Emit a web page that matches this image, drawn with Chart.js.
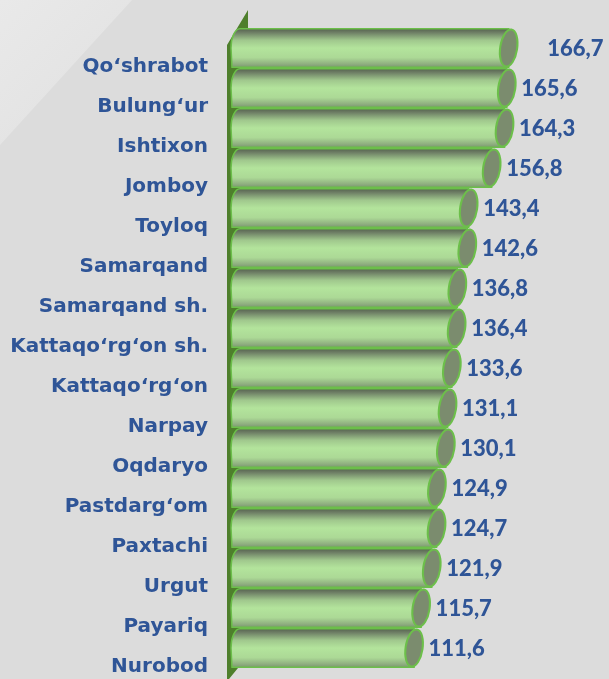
<!DOCTYPE html>
<html>
<head>
<meta charset="utf-8">
<script src="https://cdn.jsdelivr.net/npm/chart.js@4"></script>
<style>
  html, body { margin: 0; padding: 0; background: #dcdcdc; }
  #wrap { width: 609px; height: 679px; }
</style>
</head>
<body>
<div id="wrap"><canvas id="chart" width="609" height="679"></canvas></div>
<script>
let districts = [
  "Qo‘shrabot", "Bulung‘ur", "Ishtixon", "Jomboy", "Toyloq", "Samarqand",
  "Samarqand sh.", "Kattaqo‘rg‘on sh.", "Kattaqo‘rg‘on", "Narpay", "Oqdaryo",
  "Pastdarg‘om", "Paxtachi", "Urgut", "Payariq", "Nurobod"
];
let values = [
  166.7, 165.6, 164.3, 156.8, 143.4, 142.6, 136.8, 136.4,
  133.6, 131.1, 130.1, 124.9, 124.7, 121.9, 115.7, 111.6
];

let blue = "#2f5597";

//---------------------------------------------
// background with the lighter corner
//---------------------------------------------
const background = {
  id: "background",
  beforeDraw(chart) {
    const ctx = chart.ctx;
    ctx.save();
    ctx.fillStyle = "#dcdcdc";
    ctx.fillRect(0, 0, chart.width, chart.height);
    let g = ctx.createLinearGradient(0, 0, 90, 90);
    g.addColorStop(0, "#e9e9e9");
    g.addColorStop(1, "#e3e3e3");
    ctx.fillStyle = g;
    ctx.beginPath();
    ctx.moveTo(0, 0);
    ctx.lineTo(132, 0);
    ctx.lineTo(0, 145);
    ctx.closePath();
    ctx.fill();
    ctx.restore();
  },
};

//---------------------------------------------
// dark green side wall behind the bars
//---------------------------------------------
const wall = {
  id: "wall",
  beforeDatasetsDraw(chart) {
    const { left, top, bottom } = chart.chartArea;
    const ctx = chart.ctx;
    ctx.save();
    ctx.fillStyle = "#4e7f2c";
    ctx.beginPath();
    ctx.moveTo(left - 4, chart.height);
    ctx.lineTo(left - 4, top + 17);
    ctx.lineTo(left + 17, top - 18);
    ctx.lineTo(left + 17, bottom);
    ctx.lineTo(left + 7, bottom);
    ctx.lineTo(left - 2, chart.height);
    ctx.closePath();
    ctx.fill();
    ctx.restore();
  },
};

//---------------------------------------------
// bars drawn as cylinders + value labels
//---------------------------------------------
const cylinders = {
  id: "cylinders",
  afterDatasetsDraw(chart) {
    const ctx = chart.ctx;
    const bars = chart.getDatasetMeta(0).data;
    ctx.save();
    bars.forEach((bar) => {
      const h = bar.height;
      const top = bar.y - h / 2;
      const bottom = bar.y + h / 2;
      const x0 = bar.base;
      const rx = 8.5;
      const xe = bar.x - rx;

      let g = ctx.createLinearGradient(0, top, 0, bottom);
      g.addColorStop(0, "#56634f");
      g.addColorStop(0.1, "#6f8066");
      g.addColorStop(0.3, "#a0c88d");
      g.addColorStop(0.5, "#b3e49c");
      g.addColorStop(0.75, "#acd996");
      g.addColorStop(0.92, "#8fae80");
      g.addColorStop(1, "#7c9770");

      ctx.beginPath();
      ctx.moveTo(x0 + 9, top);
      ctx.lineTo(xe, top);
      ctx.lineTo(xe, bottom);
      ctx.lineTo(x0 + 1, bottom);
      ctx.lineTo(x0, bar.y);
      ctx.ellipse(x0 + 9, bar.y, 9, h / 2, 0, Math.PI, Math.PI * 1.5);
      ctx.closePath();
      ctx.fillStyle = g;
      ctx.fill();
      ctx.strokeStyle = "#6cbf4a";
      ctx.lineWidth = 1.5;
      ctx.stroke();

      // end cap
      ctx.beginPath();
      ctx.ellipse(xe, bar.y, rx, h / 2 - 0.5, 0.15, 0, Math.PI * 2);
      ctx.fillStyle = "#7b8c6e";
      ctx.fill();
      ctx.lineWidth = 2;
      ctx.strokeStyle = "#6cbf4a";
      ctx.stroke();
    });

    ctx.font = "900 22px Lato";
    ctx.fillStyle = blue;
    ctx.textAlign = "left";
    ctx.textBaseline = "middle";
    bars.forEach((bar, i) => {
      let txt = values[i].toFixed(1).replace(".", ",");
      // the longest bar's label sits a bit further out
      let gap = i == 0 ? 30 : 6;
      ctx.fillText(txt, bar.x + gap, bar.y + 1);
    });
    ctx.restore();
  },
};

new Chart(document.querySelector("#chart"), {
  type: "bar",
  data: {
    labels: districts,
    datasets: [
      {
        data: values,
        backgroundColor: "rgba(0,0,0,0)",
        borderWidth: 0,
        barPercentage: 0.96,
        categoryPercentage: 1,
      },
    ],
  },
  options: {
    indexAxis: "y",
    responsive: false,
    animation: false,
    layout: { padding: { top: 28, bottom: 11, left: 0, right: 69 } },
    plugins: {
      legend: { display: false },
      tooltip: { enabled: false },
    },
    scales: {
      x: { display: false, min: 0, max: 180 },
      y: {
        grid: { display: false, drawTicks: false },
        border: { display: false },
        ticks: {
          autoSkip: false,
          padding: 23,
          labelOffset: 19,
          color: blue,
          font: { family: "DejaVu Sans", weight: "bold", size: 20 },
        },
        afterFit: (scale) => {
          scale.width = 231;
          // labels overflow the ends on purpose, don't shrink the plot for them
          scale.paddingTop = 0;
          scale.paddingBottom = 0;
        },
      },
    },
  },
  plugins: [background, wall, cylinders],
});
</script>
</body>
</html>
